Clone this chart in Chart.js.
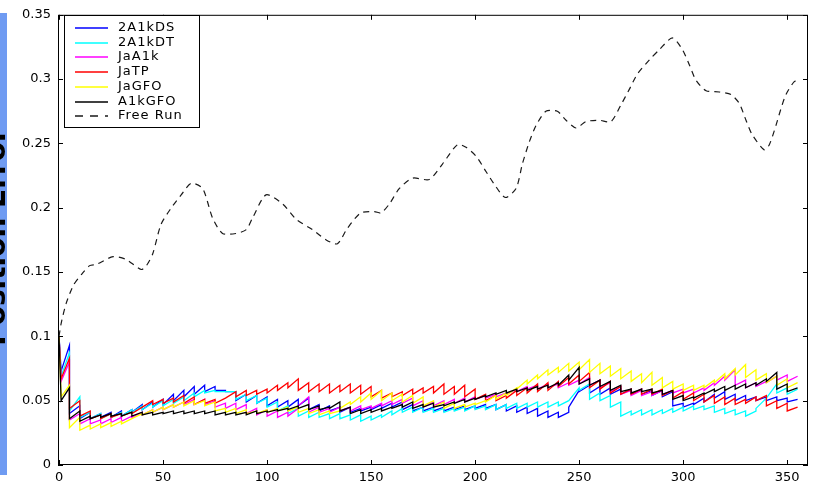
<!DOCTYPE html>
<html>
<head>
<meta charset="utf-8">
<script src="https://cdn.jsdelivr.net/npm/chart.js@4.4.0/dist/chart.umd.min.js"></script>
<style>
  html, body { margin: 0; padding: 0; background: #fff; }
  canvas { display: block; }
</style>
</head>
<body>
<canvas id="chart" width="815" height="483"></canvas>
<script>
// error values are in units of 0.001; each filter resets every 5 steps,
// so every cycle has a start (Lo) and end (Hi) value
const cycleLength = 5;
const startError = 0.1;
const yTitle = 'Position Error';

const seriesNames = ['2A1kDS', '2A1kDT', 'JaA1k', 'JaTP', 'JaGFO', 'A1kGFO'];
const seriesColors = ['#0000ff', '#00ffff', '#ff00ff', '#ff0000', '#ffff00', '#000000'];

const dsLo = [73,40,36,36,37,37,38,41,43,45, 47,50,53,55,57,58,57,50,49,48, 46,45,45,46,43,42,42,41,41,42,
              43,44,45,43,42,42,42,42,43,43, 44,44,43,42,41,40,38,37,37,45, 57,56,55,55,55,55,55,54,53,46,
              45,47,49,52,51,50,50,50,50,50,49];
const dsHi = [93,46,41,40,41,42,43,47,49,51, 55,58,61,62,61,58,57,55,54,53, 51,50,51,52,47,46,45,45,44,45,
              47,48,49,47,45,45,45,45,46,46, 47,47,47,46,45,44,42,41,41,58, 62,61,60,59,59,59,58,58,57,48,
              48,52,55,57,55,54,53,53,53,52,51];

const dtLo = [69,42,37,36,36,37,38,41,43,45, 46,48,50,53,56,57,57,51,50,48, 45,42,40,38,37,37,36,36,35,34,
              35,37,39,41,41,41,41,41,42,42, 43,43,43,44,44,45,45,45,46,50, 58,51,50,45,38,39,39,39,40,41,
              42,43,43,41,40,39,38,44,52,56,55];
const dtHi = [87,53,41,40,40,41,43,46,48,50, 51,53,56,58,58,57,57,55,54,52, 49,46,44,42,41,40,40,39,39,38,
              39,42,44,45,45,44,44,44,45,46, 46,47,47,48,48,49,49,49,50,60, 63,56,54,49,42,43,43,43,44,45,
              46,46,46,44,43,42,42,52,63,60,59];

const ja1kLo = [65,35,32,32,32,33,34,37,39,41, 43,45,47,47,47,45,44,43,40,39, 38,37,38,46,41,41,41,42,42,43,
                44,46,47,48,46,45,46,47,48,49, 51,52,53,55,57,59,59,60,60,62, 63,62,60,57,55,54,54,54,55,56,
                56,56,58,62,66,62,60,61,64,66,65];
const ja1kHi = [80,40,36,35,36,37,38,41,43,45, 47,49,51,51,50,48,48,47,44,43, 42,41,44,53,45,44,45,45,46,46,
                48,50,51,52,50,49,50,51,52,53, 54,55,56,59,61,62,63,63,64,66, 68,66,64,61,58,58,57,58,58,59,
                59,60,64,69,74,66,64,65,69,70,69];

const jatpLo = [67,44,38,36,36,37,38,40,45,47, 48,49,48,47,48,48,52,53,54,55, 56,58,60,58,57,57,56,57,56,55,
                53,52,53,54,55,56,56,55,55,53, 51,50,50,52,54,56,57,58,61,63, 65,60,59,56,55,55,55,55,54,52,
                51,50,49,48,47,47,48,50,46,44,42];
const jatpHi = [83,50,42,39,40,40,41,45,50,51, 52,54,53,51,51,52,57,58,58,59, 62,64,67,64,63,63,62,63,62,61,
                58,56,57,59,60,61,63,61,62,59, 55,54,54,58,60,63,64,65,68,70, 72,66,65,61,59,59,59,59,58,57,
                56,55,54,53,52,51,53,54,50,48,45];

const jagfoLo = [53,29,27,28,29,30,32,36,39,41, 43,45,46,47,46,42,41,40,40,40, 41,42,42,41,40,39,40,44,47,49,
                 51,50,50,49,48,46,45,44,44,45, 47,49,51,54,59,63,67,70,72,73, 74,72,71,69,67,65,64,62,60,59,
                 58,58,60,64,67,70,68,66,64,62,60];
const jagfoHi = [62,37,31,32,33,34,36,40,43,45, 47,49,50,50,49,44,44,43,42,43, 44,45,45,44,43,42,42,49,53,56,
                 58,56,55,54,53,50,49,48,47,48, 50,54,56,60,66,70,74,76,79,80, 82,79,77,75,73,71,72,68,65,63,
                 62,62,66,71,75,78,74,71,69,67,64];

const a1kgfoLo = [50,36,34,36,37,38,38,38,39,39, 40,40,40,40,40,39,39,39,39,40, 41,42,43,44,43,43,44,42,40,40,
                  41,42,44,45,44,45,45,46,48,49, 51,53,55,56,57,58,59,60,62,66, 63,62,61,58,57,56,57,56,55,51,
                  50,52,55,57,58,59,60,62,65,59,57];
const a1kgfoHi = [60,42,38,39,40,40,41,41,41,41, 42,42,42,42,42,41,41,41,42,42, 43,44,46,47,46,45,49,45,43,43,
                  44,45,47,49,47,48,47,49,51,52, 54,56,58,59,60,61,62,64,70,76, 67,66,65,62,59,59,59,58,58,54,
                  53,56,59,61,62,63,64,67,72,63,60];

// uncorrected run
const freeRunX = [0,1,3.5,7,10.7,14.7,18,26,32,39.5,42,45,49,54,58.7,63.5,69,73.8,78.6,85,90,93,99.5,107.4,114,
                  121.8,128.4,133.8,138.6,145,151.6,154.8,158.8,163.6,169.9,178,184.3,191.5,195.6,200.5,205.3,
                  209.3,214.5,219.7,222.7,226,229.3,234,239.5,243.7,248.5,253.3,259.7,265.3,270.1,274.1,278,
                  283.8,288.6,294.8,299.6,303,306.2,311,317.4,323,327,330.2,333.1,339,341.4,344.6,347,349.4,
                  353.4,356];
const freeRunY = [0.100,0.110,0.126,0.140,0.148,0.155,0.156,0.162,0.160,0.152,0.155,0.164,0.187,0.200,0.210,
                  0.219,0.215,0.192,0.180,0.180,0.183,0.192,0.210,0.203,0.191,0.183,0.175,0.172,0.184,0.196,
                  0.197,0.196,0.203,0.215,0.223,0.222,0.234,0.249,0.247,0.240,0.228,0.218,0.208,0.215,0.234,
                  0.251,0.264,0.275,0.275,0.268,0.262,0.267,0.268,0.267,0.280,0.292,0.304,0.315,0.323,0.332,
                  0.323,0.311,0.299,0.291,0.290,0.288,0.281,0.268,0.257,0.245,0.249,0.264,0.277,0.288,0.298,
                  0.299];

const xTicks = [0, 50, 100, 150, 200, 250, 300, 350];

const cycles = [[dsLo, dsHi], [dtLo, dtHi], [ja1kLo, ja1kHi], [jatpLo, jatpHi], [jagfoLo, jagfoHi], [a1kgfoLo, a1kgfoHi]];

function sawPoints(lo, hi) {
  const pts = [{ x: 0, y: startError }];
  lo.forEach((v, k) => {
    pts.push({ x: Math.max(k * cycleLength, 1), y: v / 1000 });
    pts.push({ x: (k + 1) * cycleLength, y: hi[k] / 1000 });
  });
  return pts;
}

const datasets = cycles.map(([lo, hi], i) => ({
  label: seriesNames[i],
  data: sawPoints(lo, hi),
  borderColor: seriesColors[i],
  borderWidth: 1.3,
  pointRadius: 0,
  tension: 0,
  order: 10 - i
}));
datasets.push({
  label: 'Free Run',
  data: freeRunX.map((x, i) => ({ x, y: freeRunY[i] })),
  borderColor: '#1a1a1a',
  borderWidth: 1.2,
  borderDash: [6, 5],
  pointRadius: 0,
  tension: 0.25,
  order: 1
});

const tickFont = { family: '"DejaVu Sans", sans-serif', size: 13 };

// MATLAB style box: inward ticks on all sides, boxed legend, side label
const frame = {
  id: 'frame',
  beforeDraw(chart) {
    const ctx = chart.ctx;
    ctx.save();
    ctx.fillStyle = '#6f9bf2';
    ctx.fillRect(0, 13, 7, 462);
    ctx.translate(5, 237);
    ctx.rotate(-Math.PI / 2);
    ctx.fillStyle = '#000';
    ctx.font = 'bold 28px "DejaVu Sans"';
    ctx.textAlign = 'center';
    ctx.fillText(yTitle, 0, 0);
    ctx.restore();
  },
  afterDraw(chart) {
    const { ctx, chartArea: a, scales: { x, y } } = chart;
    ctx.save();
    ctx.strokeStyle = '#000';
    ctx.lineWidth = 1;
    ctx.strokeRect(a.left + 0.5, a.top + 0.5, a.right - a.left - 1, a.bottom - a.top - 1);
    ctx.beginPath();
    x.ticks.forEach(t => {
      const px = Math.round(x.getPixelForValue(t.value)) + 0.5;
      ctx.moveTo(px, a.bottom); ctx.lineTo(px, a.bottom - 5);
      ctx.moveTo(px, a.top); ctx.lineTo(px, a.top + 5);
    });
    y.ticks.forEach(t => {
      const py = Math.round(y.getPixelForValue(t.value)) + 0.5;
      ctx.moveTo(a.left, py); ctx.lineTo(a.left + 5, py);
      ctx.moveTo(a.right, py); ctx.lineTo(a.right - 5, py);
    });
    ctx.stroke();

    // legend
    const lx = 64, ly = 15, lw = 135, lh = 112;
    ctx.fillStyle = '#fff';
    ctx.fillRect(lx, ly, lw, lh);
    ctx.strokeRect(lx + 0.5, ly + 0.5, lw, lh);
    ctx.font = '13px "DejaVu Sans"';
    ctx.letterSpacing = '1px';
    ctx.textBaseline = 'middle';
    chart.data.datasets.forEach((ds, i) => {
      const ry = Math.round(ly + 13 + i * 14.7);
      ctx.beginPath();
      ctx.strokeStyle = ds.borderColor;
      ctx.lineWidth = 1.6;
      ctx.setLineDash(ds.borderDash ? [8, 7] : []);
      ctx.moveTo(75, ry);
      ctx.lineTo(108, ry);
      ctx.stroke();
      ctx.setLineDash([]);
      ctx.fillStyle = '#000';
      ctx.fillText(ds.label, 118, ry);
    });
    ctx.restore();
  }
};

new Chart(document.getElementById('chart'), {
  type: 'line',
  data: { datasets },
  plugins: [frame],
  options: {
    responsive: false,
    animation: false,
    devicePixelRatio: 1,
    layout: { padding: { left: 0, top: 12, right: 7, bottom: 0 } },
    plugins: { legend: { display: false }, tooltip: { enabled: false } },
    scales: {
      x: {
        type: 'linear',
        min: -0.5,
        max: 360,
        afterFit: s => { s.height = 18; },
        afterBuildTicks: s => { s.ticks = xTicks.map(v => ({ value: v })); },
        grid: { display: false, drawTicks: false },
        border: { display: false },
        ticks: { color: '#000', font: tickFont, padding: 5, maxRotation: 0, autoSkip: false }
      },
      y: {
        min: 0,
        max: 0.35,
        afterFit: s => { s.width = 58; },
        grid: { display: false, drawTicks: false },
        border: { display: false },
        ticks: {
          stepSize: 0.05,
          color: '#000',
          font: tickFont,
          padding: 7,
          callback: v => String(+v.toFixed(2))
        }
      }
    }
  }
});
</script>
</body>
</html>
